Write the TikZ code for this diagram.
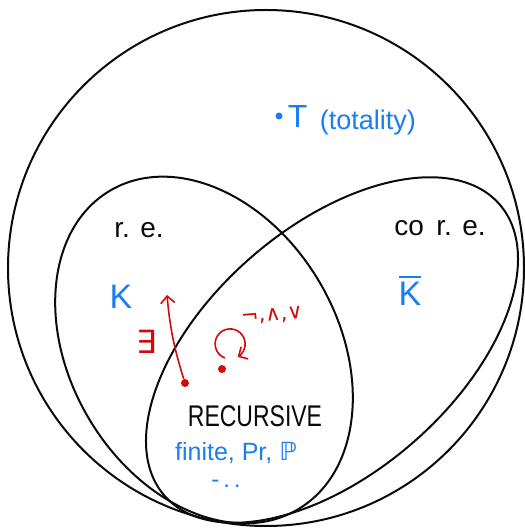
\documentclass[tikz,border=0pt]{standalone}
\usepackage{fontspec}
\setmainfont{Liberation Sans}
\newfontfamily\symbolfont{DejaVu Sans}
\usepackage{amsmath}
\usepackage{amssymb}
\usepackage{xcolor}
\usepackage{tikz}
\usetikzlibrary{arrows.meta,positioning,shapes.geometric}
\definecolor{inkblack}{HTML}{0A0A0A}
\definecolor{inkblue}{HTML}{1A7DF2}
\definecolor{inkred}{HTML}{D10A0A}
\tikzset{
  setline/.style={
    draw=inkblack, line width=2pt, fill=none,
    inner sep=0pt, outer sep=0pt
  },
  blacktext/.style={
    text=inkblack, font=\fontsize{#1}{#1}\selectfont, inner sep=1pt
  },
  blacktext/.default=22,
  bluetext/.style={
    text=inkblue, font=\fontsize{#1}{#1}\selectfont, inner sep=1pt
  },
  bluetext/.default=22,
  redtext/.style={
    text=inkred, font=\fontsize{#1}{#1}\selectfont\symbolfont, inner sep=1pt
  },
  redtext/.default=18,
  reddot/.style={
    circle, fill=inkred, minimum size=8pt, inner sep=0pt
  },
  redarrow/.style={
    -{Straight Barb[length=7pt, width=14pt]}, line width=1.6pt, color=inkred
  },
}

\begin{document}
\begin{tikzpicture}[x=1pt, y=1pt]
\useasboundingbox (0,0) rectangle (525,528);

% The three sets
\node[setline, circle, minimum size=516pt] (all) at (266,260) {};
\node[setline, ellipse, minimum width=370pt, minimum height=268pt, rotate=-59.5] (re) at (204,178) {};
\node[setline, ellipse, minimum width=444pt, minimum height=246pt, rotate=41] (core) at (332,178) {};

% Totality
\node[circle, fill=inkblue, minimum size=7pt, inner sep=0pt] (tdot) at (279,412) {};
\node[bluetext=32, right=4pt of tdot] (tname) {T};
\node[bluetext=27, right=10pt of tname, yshift=-7pt] (ttext) {(totality)};

% Labels of the sets
\node[blacktext=28] (relabel) at (139,298) {r. e.};
\node[blacktext=28] (corelabel) at (440,300) {co\, r. e.};
\node[bluetext=34] (kset) at (121,231) {K};
\node[bluetext=34] (kbar) at (410,238) {$\overline{\mbox{K}}$};

% Recursive part
\node[blacktext=23] (reclabel) at (255,112) {\scalebox{1}[1.3]{RECURSIVE}};
\node[bluetext=25] (recex) at (236,75) {finite, Pr, {\symbolfont ℙ}};
\node[bluetext=24] (recdots) at (226,44) {-\,.\,.};

% Closure properties
\node[reddot] (edot) at (185,145) {};
\node[reddot] (rdot) at (222,159) {};
\coordinate (etip) at (167,233);
\node[redtext=32] (exists) at (147,186) {∃};
\node[redtext=21, rotate=5] (ops) at (272,212) {¬,∧,∨};

\draw[redarrow] (edot) to[bend left=6] (etip);
\draw[redarrow] ([shift={(3,11)}]rdot.center) arc[start angle=250, end angle=-60, radius=15];

\end{tikzpicture}
\end{document}
